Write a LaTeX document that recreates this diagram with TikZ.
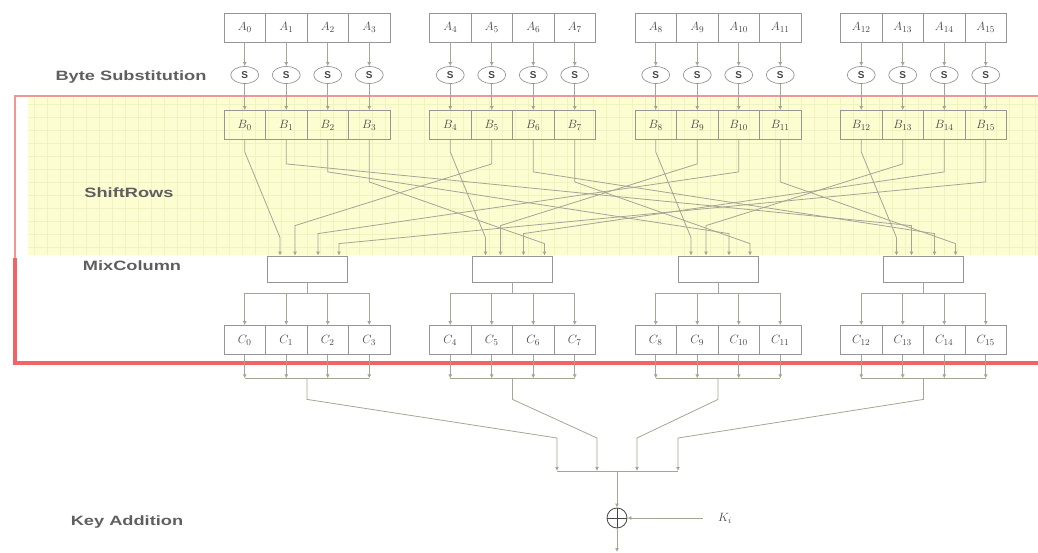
\documentclass[tikz,border=0pt]{standalone}
\usepackage{fontspec}
\setmainfont{Liberation Sans}
\usetikzlibrary{shapes.geometric,arrows.meta,calc}
\definecolor{cellc}{RGB}{150,150,150}
\definecolor{textc}{RGB}{70,70,70}
\definecolor{wirec}{RGB}{165,165,150}
\definecolor{yelbg}{RGB}{253,253,210}
\definecolor{yelgrid}{RGB}{242,242,192}
\definecolor{redthin}{RGB}{240,150,150}
\definecolor{redthick}{RGB}{240,100,100}
\definecolor{labc}{RGB}{95,95,95}
\newcommand{\widelab}[1]{\scalebox{1.35}[1]{#1}}
\begin{document}
\begin{tikzpicture}[x=1pt,y=-1pt,
  cell/.style={draw=cellc, line width=0.8pt, minimum width=41.5pt, minimum height=29pt,
    inner sep=0pt, text=textc, font=\fontsize{13}{13}\selectfont},
  sbox/.style={ellipse, draw=cellc, line width=0.7pt, minimum width=28pt, minimum height=17pt,
    inner sep=0pt, text=textc, font=\fontsize{10}{10}\selectfont\bfseries},
  mixbox/.style={draw=cellc, line width=0.8pt, minimum width=80pt, minimum height=26pt, inner sep=0pt},
  wire/.style={draw=wirec, line width=0.8pt},
  arr/.style={-{Latex[length=4pt,width=4pt]}},
  steplabel/.style={text=labc, font=\fontsize{13.5}{13.5}\selectfont\bfseries, inner sep=0pt},
  xorc/.style={circle, draw=textc, line width=0.8pt, minimum size=20pt, inner sep=0pt,
    path picture={\draw[textc, line width=0.8pt] (path picture bounding box.north) -- (path picture bounding box.south)
      (path picture bounding box.west) -- (path picture bounding box.east);}}
]
\useasboundingbox (0,0) rectangle (1038,552);
% yellow grid region
\fill[yelbg] (28,98) rectangle (1038,255);
\foreach \xx in {34,47,...,1038} \draw[yelgrid, line width=0.5pt] (\xx,98) -- (\xx,255);
\foreach \yy in {104,117,...,255} \draw[yelgrid, line width=0.5pt] (28,\yy) -- (1038,\yy);
% red frame
\draw[redthin, line width=2pt] (1038,96) -- (15,96) -- (15,258);
\draw[redthick, line width=4.5pt] (15,258) -- (15,363) -- (1038,363);
% labels
\node[steplabel] (lbs) at (131,77) {\widelab{Byte Substitution}};
\node[steplabel] (lsr) at (129,193) {\widelab{ShiftRows}};
\node[steplabel] (lmc) at (132,266) {\widelab{MixColumn}};
\node[steplabel] (lka) at (127,522) {\widelab{Key Addition}};
% cells
\foreach \g in {0,...,3} {
  \foreach \c in {0,...,3} {
    \pgfmathtruncatemacro{\i}{4*\g+\c}
    \pgfmathsetmacro{\xc}{224+205.5*\g+41.5*(\c+0.5)}
    \node[cell] (A\i) at (\xc,27.5) {$A_{\i}$};
    \node[sbox] (S\i) at (\xc,75) {S};
    \node[cell] (B\i) at (\xc,125) {$B_{\i}$};
    \node[cell] (C\i) at (\xc,340) {$C_{\i}$};
    \draw[wire,arr] (A\i.south) -- (S\i.north);
    \draw[wire,arr] (S\i.south) -- (B\i.north);
  }
  \pgfmathsetmacro{\gc}{224+205.5*\g+83}
  \node[mixbox] (M\g) at (\gc,269) {};
  \foreach \c/\dx in {0/-27,1/-12,2/11,3/32} {
    \coordinate (M\g-\c) at ($(M\g.north)+(\dx,0)$);
  }
  \coordinate (mb\g) at ($(M\g.south)+(0,11)$);
  \coordinate (cb\g) at ($(M\g.south)+(0,96)$);
}
% ShiftRows wiring
\foreach \g in {0,...,3} {
  \foreach \c/\ys/\ye in {0/12/18,1/24/30,2/32/22,3/42/12} {
    \pgfmathtruncatemacro{\i}{4*\g+\c}
    \pgfmathtruncatemacro{\m}{mod(\g-\c+4,4)}
    \draw[wire,arr] (B\i.south) -- ++(0,\ys) -- ($(M\m-\c)+(0,-\ye)$) -- (M\m-\c);
  }
}
% MixColumn outputs and C bus
\foreach \g in {0,...,3} {
  \pgfmathtruncatemacro{\ia}{4*\g}
  \pgfmathtruncatemacro{\ib}{4*\g+3}
  \draw[wire] (M\g.south) -- (mb\g);
  \draw[wire] (C\ia.north |- mb\g) -- (C\ib.north |- mb\g);
  \draw[wire] (C\ia.south |- cb\g) -- (C\ib.south |- cb\g);
  \foreach \c in {0,...,3} {
    \pgfmathtruncatemacro{\i}{4*\g+\c}
    \draw[wire,arr] (C\i.north |- mb\g) -- (C\i.north);
    \draw[wire,arr] (C\i.south) -- (C\i.south |- cb\g);
  }
}
% convergence to key addition
\coordinate (J0) at (557,471);
\coordinate (J1) at (597,471);
\coordinate (J2) at (637,471);
\coordinate (J3) at (678,471);
\coordinate (Jc) at (617,471);
\foreach \g in {0,...,3} {
  \draw[wire,arr] (cb\g) -- ++(0,21) -- ($(J\g)+(0,-33)$) -- (J\g);
}
\draw[wire] (J0) -- (J3);
\node[xorc] (X) at (617,518) {};
\draw[wire,arr] (Jc) -- (X.north);
\node[text=textc, font=\fontsize{13}{13}\selectfont, inner sep=1pt] (K) at (725,518) {$K_i$};
\draw[wire,arr,shorten <=14pt] (K.west) -- (X.east);
\coordinate (out) at (617,552);
\draw[wire,arr] (X.south) -- (out);
\end{tikzpicture}
\end{document}
